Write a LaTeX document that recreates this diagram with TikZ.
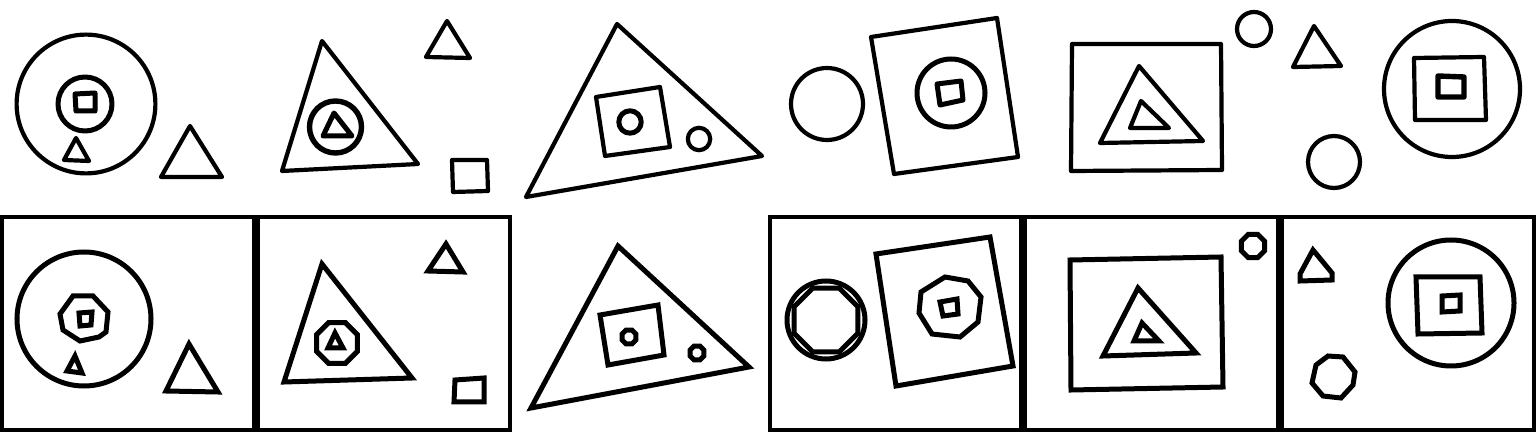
\documentclass[tikz,border=0pt]{standalone}
\begin{document}
\begin{tikzpicture}[x=0.5pt,y=-0.5pt,line join=round,line cap=round,
  sketch/.style={draw=black,line width=2.1pt},
  clean/.style={draw=black,line width=2.5pt,line join=miter},
  frame/.style={draw=black,line width=1.8pt,line join=miter}]
\useasboundingbox (0,0) rectangle (1536,432);
% ---------------- top row (hand drawn) ----------------
% panel 1
\draw[sketch] (86,104) circle[radius=34.7pt];
\draw[sketch,line width=2.5pt] (85,104) circle[radius=13.5pt];
\draw[sketch,line width=2.5pt] (75,94) -- (95,93) -- (95,111) -- (76,111) -- cycle;
\draw[sketch] (76,138) -- (64,160) -- (89,161) -- cycle;
\draw[sketch] (190,126) -- (161,177) -- (222,177) -- cycle;
% panel 2
\draw[sketch] (322,41) -- (282,171) -- (418,164) -- cycle;
\draw[sketch,line width=2.7pt] (335.5,127) circle[radius=13pt];
\draw[sketch,line width=2.5pt] (334,113) -- (323,136) -- (352,136) -- cycle;
\draw[sketch] (447,21) -- (426,57) -- (470,58) -- cycle;
\draw[sketch] (452,160) -- (487,160) -- (488,191) -- (453,192) -- cycle;
% panel 3
\draw[sketch] (617,24) -- (526,197) -- (762,156) -- cycle;
\draw[sketch] (596,97) -- (660,87) -- (670,147) -- (605,156) -- cycle;
\draw[sketch,line width=2.5pt] (630,122) circle[radius=5.6pt];
\draw[sketch] (699,139) circle[radius=5.6pt];
% panel 4
\draw[sketch] (827,104) circle[radius=18pt];
\draw[sketch] (871,37) -- (997,18) -- (1018,157) -- (894,174) -- cycle;
\draw[sketch,line width=2.5pt] (951,93) circle[radius=17pt];
\draw[sketch,line width=2.5pt] (937,84) -- (961,81) -- (963,100) -- (940,105) -- cycle;
% panel 5
\draw[sketch] (1072,44) -- (1221,44) -- (1222,170) -- (1071,171) -- cycle;
\draw[sketch] (1139,66) -- (1100,143) -- (1203,141) -- cycle;
\draw[sketch] (1141,101) -- (1130,128) -- (1169,128) -- cycle;
\draw[sketch] (1254,29) circle[radius=8.5pt];
% panel 6
\draw[sketch] (1314,26) -- (1293,67) -- (1341,66) -- cycle;
\draw[sketch] (1334,162) circle[radius=13pt];
\draw[sketch] (1452,89) circle[radius=34pt];
\draw[sketch] (1414,58) -- (1484,57) -- (1486,120) -- (1415,120) -- cycle;
\draw[sketch,line width=2.7pt] (1438,76) -- (1464,77) -- (1464,97) -- (1438,97) -- cycle;
% ---------------- bottom row (clean) ----------------
% frames
\draw[frame] (2,217) rectangle (254,430);
\draw[frame] (258,217) rectangle (510,430);
\draw[frame] (770,217) rectangle (1021,430);
\draw[frame] (1025,217) rectangle (1278,430);
\draw[frame] (1282,217) rectangle (1534,430);
% panel 1
\draw[clean] (84,319) circle[radius=33.5pt];
\draw[clean] (73,296) -- (93,296) -- (108,312) -- (106,332) -- (99,337) -- (80,341) -- (63,330) -- (60,314) -- cycle;
\draw[clean] (79,313) -- (92,312) -- (91,325) -- (80,326) -- cycle;
\draw[clean] (75,356) -- (67,371) -- (82,373) -- cycle;
\draw[clean] (189,344) -- (166,391) -- (218,392) -- cycle;
% panel 2
\draw[clean] (322,264) -- (284,382) -- (412,378) -- cycle;
\draw[clean] (337,343) +(22.5:22) -- +(67.5:22) -- +(112.5:22) -- +(157.5:22) -- +(202.5:22) -- +(247.5:22) -- +(292.5:22) -- +(337.5:22) -- cycle;
\draw[clean] (335,333) -- (328,348) -- (343,348) -- cycle;
\draw[clean] (446,244) -- (428,271) -- (463,272) -- cycle;
\draw[clean] (455,380) -- (484,378) -- (484,402) -- (454,402) -- cycle;
% panel 3
\draw[clean] (618,246) -- (531,408) -- (749,367) -- cycle;
\draw[clean] (600,315) -- (658,305) -- (664,355) -- (608,365) -- cycle;
\draw[clean] (629,337) +(22.5:7.5) -- +(67.5:7.5) -- +(112.5:7.5) -- +(157.5:7.5) -- +(202.5:7.5) -- +(247.5:7.5) -- +(292.5:7.5) -- +(337.5:7.5) -- cycle;
\draw[clean] (697,353) +(22.5:7.5) -- +(67.5:7.5) -- +(112.5:7.5) -- +(157.5:7.5) -- +(202.5:7.5) -- +(247.5:7.5) -- +(292.5:7.5) -- +(337.5:7.5) -- cycle;
% panel 4
\draw[clean] (826,320) circle[radius=19.5pt];
\draw[clean] (826,320) +(22.5:34.5) -- +(67.5:34.5) -- +(112.5:34.5) -- +(157.5:34.5) -- +(202.5:34.5) -- +(247.5:34.5) -- +(292.5:34.5) -- +(337.5:34.5) -- cycle;
\draw[clean] (876,254) -- (990,237) -- (1013,366) -- (896,386) -- cycle;
\draw[clean] (921,292) -- (945,277) -- (968,281) -- (981,297) -- (978,322) -- (960,337) -- (932,334) -- (919,313) -- cycle;
\draw[clean] (940,302) -- (957,299) -- (958,314) -- (943,316) -- cycle;
% panel 5
\draw[clean] (1070,260) -- (1221,257) -- (1223,387) -- (1071,390) -- cycle;
\draw[clean] (1138,288) -- (1103,356) -- (1196,353) -- cycle;
\draw[clean] (1142,323) -- (1134,341) -- (1159,341) -- cycle;
\draw[clean] (1253,246) +(22.5:12.5) -- +(67.5:12.5) -- +(112.5:12.5) -- +(157.5:12.5) -- +(202.5:12.5) -- +(247.5:12.5) -- +(292.5:12.5) -- +(337.5:12.5) -- cycle;
% panel 6
\draw[clean] (1313,250) -- (1300,274) -- (1300,281) -- (1332,280) -- (1332,273) -- cycle;
\draw[clean] (1328,356) -- (1343,357) -- (1355,372) -- (1353,385) -- (1341,398) -- (1323,396) -- (1312,383) -- (1316,365) -- cycle;
\draw[clean] (1451,303) circle[radius=31.5pt];
\draw[clean] (1416,277) -- (1480,277) -- (1482,333) -- (1418,334) -- cycle;
\draw[clean] (1442,296) -- (1460,295) -- (1460,311) -- (1442,312) -- cycle;
\end{tikzpicture}
\end{document}
